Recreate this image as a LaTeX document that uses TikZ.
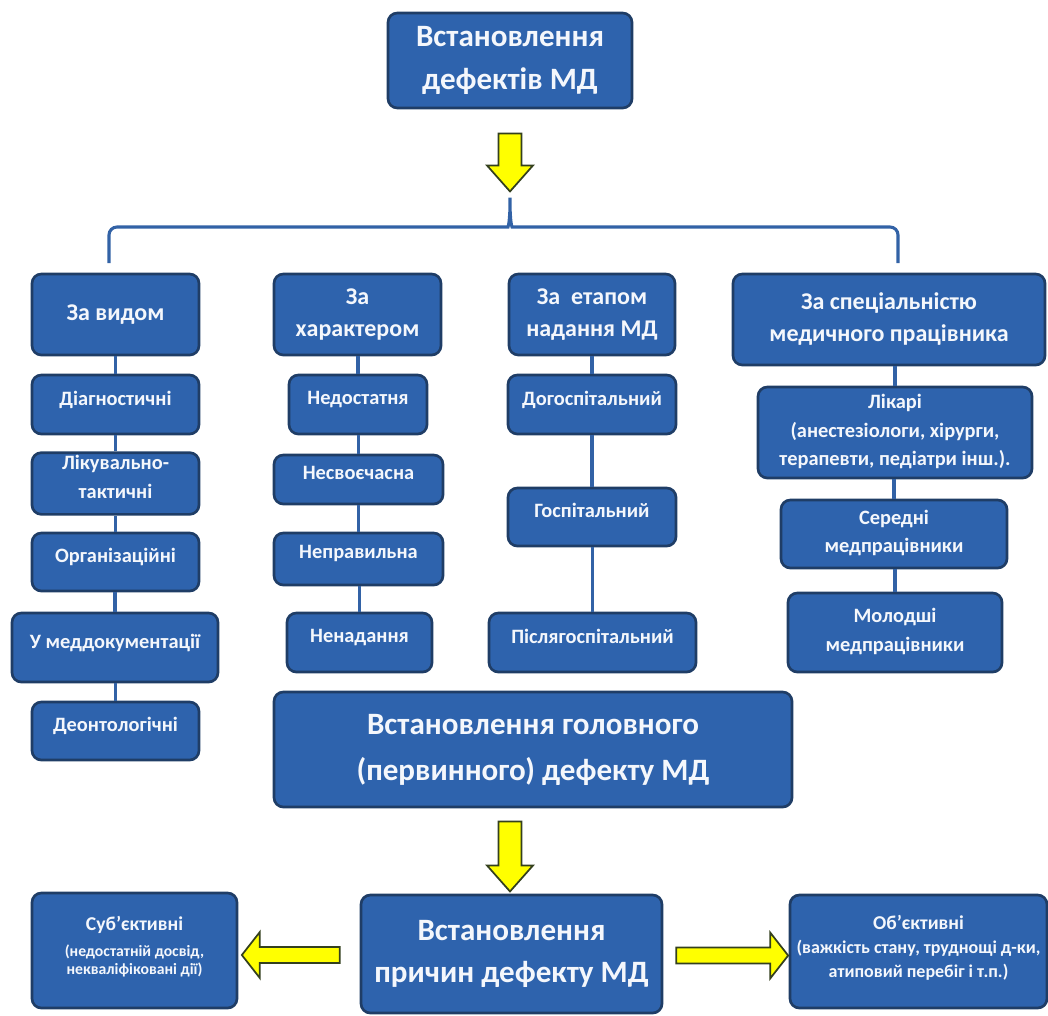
\documentclass[tikz,border=0pt]{standalone}
\usepackage{fontspec}
\setmainfont{Carlito}
\usepackage{tikz}
\usetikzlibrary{shapes.arrows}
\definecolor{box}{HTML}{2E63AD}
\definecolor{rim}{HTML}{1F3D66}
\definecolor{wire}{HTML}{3262A6}
\definecolor{ink}{HTML}{F4F7FC}
\definecolor{hint}{HTML}{FFFF00}
\definecolor{hintrim}{HTML}{34401E}

\begin{document}
\begin{tikzpicture}[x=0.75pt, y=-0.75pt, every node/.style={text=ink, align=center},
  b/.style={draw=rim, fill=box, line width=2pt, rounded corners=7pt, inner sep=2pt},
  big/.style={b, font=\bfseries\fontsize{23.3}{32}\selectfont},
  head/.style={b, font=\bfseries\fontsize{18}{24}\selectfont},
  item/.style={b, font=\bfseries\fontsize{15.3}{21.5}\selectfont, text depth=10pt},
  side/.style={b, font=\bfseries\fontsize{11.8}{13}\selectfont, text depth=8pt},
  link/.style={draw=wire, line width=2.3pt},
  hint/.style={single arrow, draw=hintrim, fill=hint, line width=1.3pt, inner xsep=0pt},
  down/.style={hint, inner ysep=7.9pt, single arrow head extend=8.6pt, single arrow tip angle=83, rotate=-90},
  side arrow/.style={hint, inner ysep=5.4pt, single arrow head extend=11.2pt, single arrow tip angle=104}]
\useasboundingbox (0,0) rectangle (1048,1015);

% top and headers
\node[big, minimum width=183pt, minimum height=71.25pt] (top) at (510,60.5) {Встановлення\\дефектів МД};
\node[head, minimum width=125.25pt, minimum height=60.75pt] (h1) at (115.5,314.5) {За видом};
\node[head, minimum width=125.25pt, minimum height=60.75pt] (h2) at (357.5,314.5) {За\\характером};
\node[head, minimum width=124.5pt, minimum height=60.75pt] (h3) at (592,314.5) {За\ \ етапом\\надання МД};
\node[head, minimum width=234pt, minimum height=68.25pt] (h4) at (889,319.5) {За спеціальністю\\медичного працівника};

% by kind
\node[item, minimum width=125.25pt, minimum height=44.25pt] (a1) at (115.5,404.5) {Діагностичні};
\node[item, minimum width=125.25pt, minimum height=44.25pt] (a2) at (115.5,483.5) {Лікувально-\\тактичні};
\node[item, minimum width=125.25pt, minimum height=43.5pt] (a3) at (115.5,562) {Організаційні};
\node[item, minimum width=154.5pt, minimum height=51.75pt] (a4) at (115,647.5) {У меддокументації};
\node[item, minimum width=125.25pt, minimum height=43.5pt] (a5) at (115.5,731) {Деонтологічні};

% by character
\node[item, minimum width=103.5pt, minimum height=44.25pt] (b1) at (358,404.5) {Недостатня};
\node[item, minimum width=126.75pt, minimum height=36.75pt] (b2) at (358.5,479.5) {Несвоєчасна};
\node[item, minimum width=126.75pt, minimum height=39pt] (b3) at (358.5,559) {Неправильна};
\node[item, minimum width=108.75pt, minimum height=44.25pt] (b4) at (359.5,642.5) {Ненадання};

% by stage
\node[item, minimum width=126pt, minimum height=44.25pt] (c1) at (592,404.5) {Догоспітальний};
\node[item, minimum width=126pt, minimum height=43.5pt] (c2) at (592,517) {Госпітальний};
\node[item, minimum width=155.25pt, minimum height=44.25pt] (c3) at (592.5,642.5) {Післягоспітальний};

% by speciality
\node[item, text depth=4pt, minimum width=205.5pt, minimum height=68.25pt] (d1) at (895,432.5) {Лікарі\\(анестезіологи, хірурги,\\терапевти, педіатри інш.).};
\node[item, text depth=4pt, minimum width=169.5pt, minimum height=51pt] (d2) at (894,534) {Середні\\медпрацівники};
\node[item, text depth=4pt, minimum width=160.5pt, minimum height=59.25pt] (d3) at (895,632.5) {Молодші\\медпрацівники};

% bottom part
\node[big, font=\bfseries\fontsize{23.3}{34.5}\selectfont, minimum width=388.5pt, minimum height=86.25pt] (g) at (533,749.5) {Встановлення головного\\(первинного) дефекту МД};
\node[big, minimum width=225.75pt, minimum height=88.5pt] (p) at (511.5,954) {Встановлення\\причин дефекту МД};
\node[side, minimum width=153.75pt, minimum height=86.25pt] (s) at (134.5,950.5) {{\fontsize{14.7}{18}\selectfont Суб’єктивні}\\[7pt](недостатній досвід,\\некваліфіковані дії)};
\node[side, font=\bfseries\fontsize{13.5}{18}\selectfont, minimum width=192.75pt, minimum height=84.75pt] (o) at (918.5,951.5) {{\fontsize{14.7}{18}\selectfont Об’єктивні}\\(важкість стану, труднощі д-ки,\\атиповий перебіг і т.п.)};

% yellow arrows
\node[down, minimum height=43.5pt] (t1) at (510,156) {};
\node[down, minimum height=52.5pt] (t2) at (510,850) {};
\node[side arrow, minimum height=73.5pt, rotate=180] (t3) at (294,955) {};
\node[side arrow, minimum height=84pt] (t4) at (729,955.5) {};

% brace
\coordinate (bl) at (109,263);
\coordinate (br) at (898,263);
\coordinate (bt) at (510,193);
\draw[link, rounded corners=6pt] (bl) -- (109,227) -- (500,227) .. controls (508,227) and (510,222) .. (bt) .. controls (510,222) and (512,227) .. (520,227) -- (898,227) -- (br);

% columns
\foreach \u/\v in {h1/a1,a1/a2,a2/a3,a3/a4,a4/a5,h2/b1,b1/b2,b2/b3,b3/b4,h3/c1,c1/c2,c2/c3,h4/d1,d1/d2,d2/d3}
  \draw[link] (\v.north) -- (\v.north |- \u.south);
\end{tikzpicture}
\end{document}
